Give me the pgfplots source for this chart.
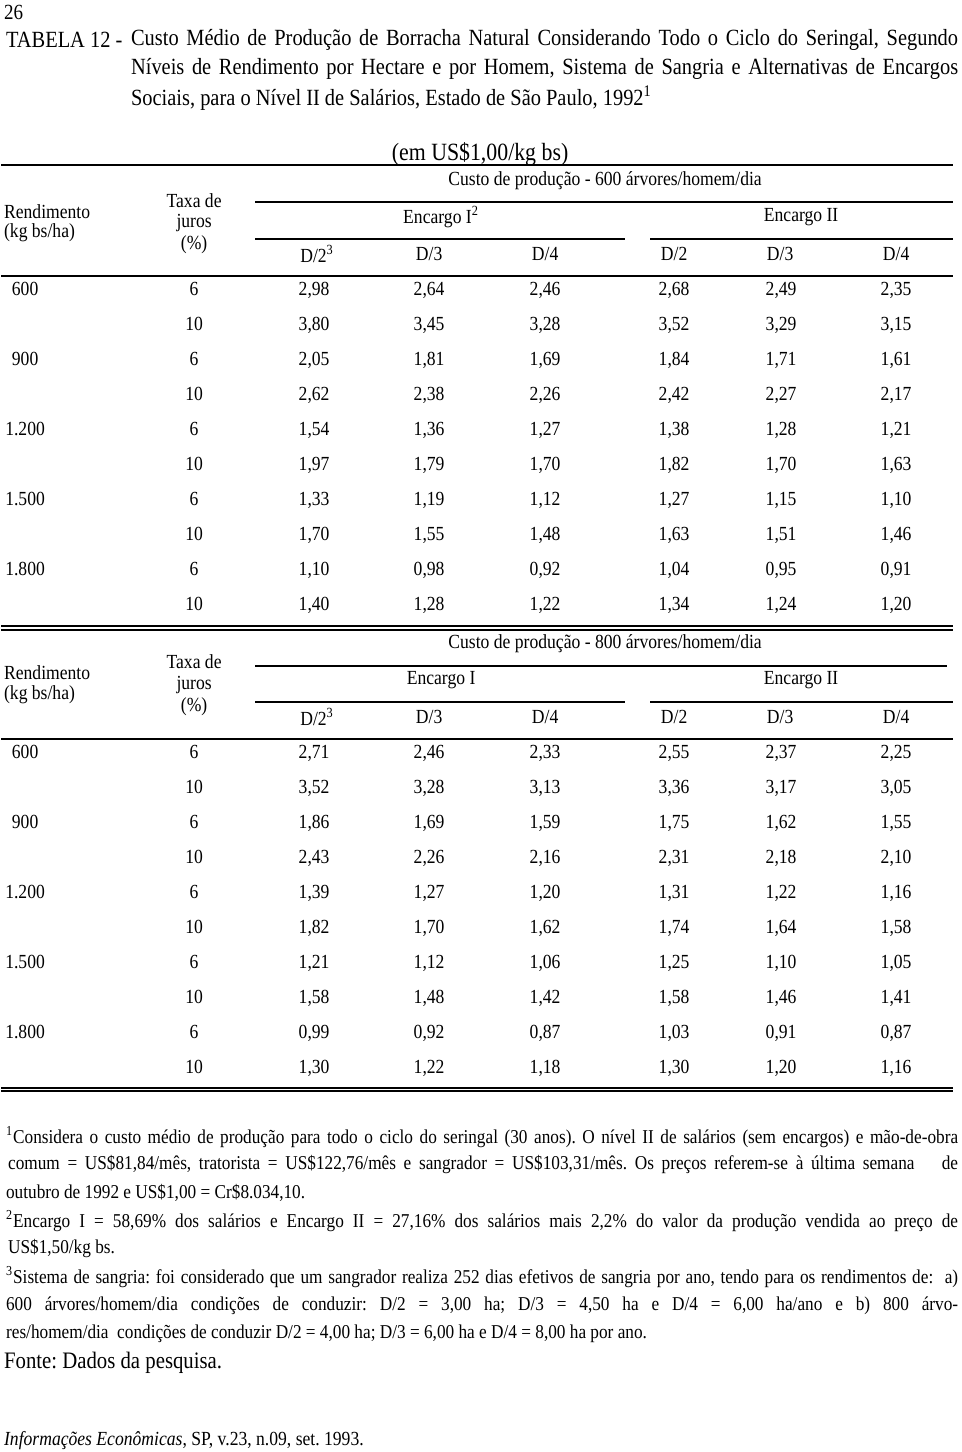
\documentclass[border=0pt]{standalone}
\usepackage{pgfplots}
\pgfplotsset{compat=1.18}
\usepackage{pgfplotstable}
\usepackage{fontspec}
\setmainfont[FakeStretch=0.88]{Liberation Serif}
\frenchspacing

\newcommand\tabfont{\fontsize{10}{12}\selectfont}
\newcommand\notefont{\fontsize{9.8}{11.5}\selectfont}
\newcommand\titfont{\fontsize{11.6}{14}\selectfont}
\newcommand\fontefont{\fontsize{11.8}{14}\selectfont}

% 600 arvores/homem/dia
\pgfplotstableread{
y   rend  taxa a    b    c    d    e    f
290 600   6    2,98 2,64 2,46 2,68 2,49 2,35
325 {}    10   3,80 3,45 3,28 3,52 3,29 3,15
360 900   6    2,05 1,81 1,69 1,84 1,71 1,61
395 {}    10   2,62 2,38 2,26 2,42 2,27 2,17
430 1.200 6    1,54 1,36 1,27 1,38 1,28 1,21
465 {}    10   1,97 1,79 1,70 1,82 1,70 1,63
500 1.500 6    1,33 1,19 1,12 1,27 1,15 1,10
535 {}    10   1,70 1,55 1,48 1,63 1,51 1,46
570 1.800 6    1,10 0,98 0,92 1,04 0,95 0,91
605 {}    10   1,40 1,28 1,22 1,34 1,24 1,20
}\tabA

% 800 arvores/homem/dia
\pgfplotstableread{
y    rend  taxa a    b    c    d    e    f
753  600   6    2,71 2,46 2,33 2,55 2,37 2,25
788  {}    10   3,52 3,28 3,13 3,36 3,17 3,05
823  900   6    1,86 1,69 1,59 1,75 1,62 1,55
858  {}    10   2,43 2,26 2,16 2,31 2,18 2,10
893  1.200 6    1,39 1,27 1,20 1,31 1,22 1,16
928  {}    10   1,82 1,70 1,62 1,74 1,64 1,58
963  1.500 6    1,21 1,12 1,06 1,25 1,10 1,05
998  {}    10   1,58 1,48 1,42 1,58 1,46 1,41
1033 1.800 6    0,99 0,92 0,87 1,03 0,91 0,87
1068 {}    10   1,30 1,22 1,18 1,30 1,20 1,16
}\tabB

\pgfplotsset{
  cell/.style={only marks, mark=none, nodes near coords, point meta=explicit symbolic,
    nodes near coords style={anchor=center, text=black, font=\tabfont,
      text height=1.5ex, text depth=0.3ex, inner sep=0pt}},
}
\tikzset{every node/.style={inner sep=0pt, outer sep=0pt}}

\begin{document}
\begin{tikzpicture}
\begin{axis}[
  width=480pt, height=726pt, scale only axis,
  xmin=0, xmax=960, ymin=0, ymax=1452, y dir=reverse,
  axis lines=none, clip=false,
]
\path (axis cs:0,0) rectangle (axis cs:960,1452);

% page number and title
\node[anchor=west, font=\fontsize{10.8}{13}\selectfont] at (axis cs:3,12) {26};
\node[anchor=west, font=\titfont] at (axis cs:5,40) {TABELA 12 -};
\node[anchor=west, font=\titfont] at (axis cs:130,40)
  {\makebox[413.5pt][s]{Custo Médio de Produção de Borracha Natural Considerando Todo o Ciclo do Seringal, Segundo}};
\node[anchor=west, font=\titfont] at (axis cs:130,69)
  {\makebox[413.5pt][s]{Níveis de Rendimento por Hectare e por Homem, Sistema de Sangria e Alternativas de Encargos}};
\node[anchor=west, font=\titfont] at (axis cs:130,98)
  {Sociais, para o Nível II de Salários, Estado de São Paulo, 1992\textsuperscript{1}};
\node[font=\fontsize{12.4}{14}\selectfont] at (axis cs:479,154) {(em US\$1,00/kg bs)};

% ---- block 1 header
\draw[line width=1pt] (axis cs:0,165) -- (axis cs:952,165);
\node[font=\tabfont] at (axis cs:604,181) {Custo de produção - 600 árvores/homem/dia};
\draw[line width=0.8pt] (axis cs:254,202) -- (axis cs:952,202);
\node[font=\tabfont] at (axis cs:440,217) {Encargo I\textsuperscript{2}};
\node[font=\tabfont] at (axis cs:800,217) {Encargo II};
\draw[line width=0.8pt] (axis cs:254,239) -- (axis cs:624,239);
\draw[line width=0.8pt] (axis cs:649,239) -- (axis cs:952,239);
\node[font=\tabfont, anchor=west] at (axis cs:3,212) {Rendimento};
\node[font=\tabfont, anchor=west] at (axis cs:3,233) {(kg bs/ha)};
\node[font=\tabfont] at (axis cs:193,201) {Taxa de};
\node[font=\tabfont] at (axis cs:193,223) {juros};
\node[font=\tabfont] at (axis cs:193,245) {(\%)};
\node[font=\tabfont] at (axis cs:316,254) {D/2\textsuperscript{3}};
\node[font=\tabfont] at (axis cs:428,254) {D/3};
\node[font=\tabfont] at (axis cs:544,254) {D/4};
\node[font=\tabfont] at (axis cs:673,254) {D/2};
\node[font=\tabfont] at (axis cs:779,254) {D/3};
\node[font=\tabfont] at (axis cs:895,254) {D/4};
\draw[line width=1.1pt] (axis cs:0,276) -- (axis cs:952,276);

\addplot[cell] table[x expr=24,  y=y, meta=rend] {\tabA};
\addplot[cell] table[x expr=193, y=y, meta=taxa] {\tabA};
\addplot[cell] table[x expr=313, y=y, meta=a] {\tabA};
\addplot[cell] table[x expr=428, y=y, meta=b] {\tabA};
\addplot[cell] table[x expr=544, y=y, meta=c] {\tabA};
\addplot[cell] table[x expr=673, y=y, meta=d] {\tabA};
\addplot[cell] table[x expr=780, y=y, meta=e] {\tabA};
\addplot[cell] table[x expr=895, y=y, meta=f] {\tabA};

% ---- block 2 header
\draw[line width=0.6pt] (axis cs:0,626) -- (axis cs:952,626);
\draw[line width=0.6pt] (axis cs:0,630) -- (axis cs:952,630);
\node[font=\tabfont] at (axis cs:604,644) {Custo de produção - 800 árvores/homem/dia};
\draw[line width=0.8pt] (axis cs:254,666) -- (axis cs:946,666);
\node[font=\tabfont] at (axis cs:440,680) {Encargo I};
\node[font=\tabfont] at (axis cs:800,680) {Encargo II};
\draw[line width=0.8pt] (axis cs:254,702) -- (axis cs:624,702);
\draw[line width=0.8pt] (axis cs:649,702) -- (axis cs:952,702);
\node[font=\tabfont, anchor=west] at (axis cs:3,673) {Rendimento};
\node[font=\tabfont, anchor=west] at (axis cs:3,695) {(kg bs/ha)};
\node[font=\tabfont] at (axis cs:193,662) {Taxa de};
\node[font=\tabfont] at (axis cs:193,685) {juros};
\node[font=\tabfont] at (axis cs:193,707) {(\%)};
\node[font=\tabfont] at (axis cs:316,717) {D/2\textsuperscript{3}};
\node[font=\tabfont] at (axis cs:428,717) {D/3};
\node[font=\tabfont] at (axis cs:544,717) {D/4};
\node[font=\tabfont] at (axis cs:673,717) {D/2};
\node[font=\tabfont] at (axis cs:779,717) {D/3};
\node[font=\tabfont] at (axis cs:895,717) {D/4};
\draw[line width=1.1pt] (axis cs:0,739) -- (axis cs:952,739);

\addplot[cell] table[x expr=24,  y=y, meta=rend] {\tabB};
\addplot[cell] table[x expr=193, y=y, meta=taxa] {\tabB};
\addplot[cell] table[x expr=313, y=y, meta=a] {\tabB};
\addplot[cell] table[x expr=428, y=y, meta=b] {\tabB};
\addplot[cell] table[x expr=544, y=y, meta=c] {\tabB};
\addplot[cell] table[x expr=673, y=y, meta=d] {\tabB};
\addplot[cell] table[x expr=780, y=y, meta=e] {\tabB};
\addplot[cell] table[x expr=895, y=y, meta=f] {\tabB};

\draw[line width=0.7pt] (axis cs:0,1088) -- (axis cs:952,1088);
\draw[line width=0.7pt] (axis cs:0,1091) -- (axis cs:952,1091);

% ---- footnotes
\node[anchor=west, font=\notefont] at (axis cs:5,1137)
  {\makebox[476pt][s]{\textsuperscript{1}Considera o custo médio de produção para todo o ciclo do seringal (30 anos). O nível II de salários (sem encargos) e mão-de-obra}};
\node[anchor=west, font=\notefont] at (axis cs:7,1165)
  {\makebox[475pt][s]{comum = US\$81,84/mês, tratorista = US\$122,76/mês e sangrador = US\$103,31/mês. Os preços referem-se à última semana \quad de}};
\node[anchor=west, font=\notefont] at (axis cs:5,1193)
  {outubro de 1992 e US\$1,00 = Cr\$8.034,10.};
\node[anchor=west, font=\notefont] at (axis cs:5,1221)
  {\makebox[476pt][s]{\textsuperscript{2}Encargo I = 58,69\% dos salários e Encargo II = 27,16\% dos salários mais 2,2\% do valor da produção vendida ao preço de}};
\node[anchor=west, font=\notefont] at (axis cs:7,1249)
  {US\$1,50/kg bs.};
\node[anchor=west, font=\notefont] at (axis cs:5,1277)
  {\makebox[476pt][s]{\textsuperscript{3}Sistema de sangria: foi considerado que um sangrador realiza 252 dias efetivos de sangria por ano, tendo para os rendimentos de: \ a)}};
\node[anchor=west, font=\notefont] at (axis cs:5,1306)
  {\makebox[476pt][s]{600 árvores/homem/dia condições de conduzir: D/2 = 3,00 ha; D/3 = 4,50 ha e D/4 = 6,00 ha/ano e b) 800 árvo-}};
\node[anchor=west, font=\notefont] at (axis cs:5,1334)
  {res/homem/dia \ condições de conduzir D/2 = 4,00 ha; D/3 = 6,00 ha e D/4 = 8,00 ha por ano.};
\node[anchor=west, font=\fontefont] at (axis cs:3,1363) {Fonte: Dados da pesquisa.};
\node[anchor=west, font=\fontsize{10}{12}\selectfont] at (axis cs:3,1441)
  {\textit{Informações Econômicas}, SP, v.23, n.09, set. 1993.};
\end{axis}
\end{tikzpicture}
\end{document}
